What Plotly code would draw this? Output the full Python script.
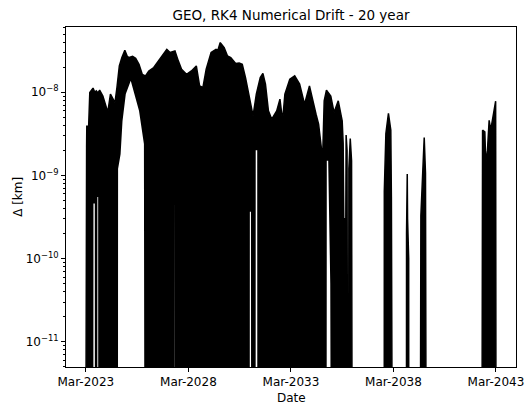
import numpy as np
import pandas as pd
import plotly.graph_objects as go

# Numerical drift of the RK4 propagation of a GEO orbit against the reference
# solution.  The drift oscillates rapidly between its envelope and (numerically)
# zero, so the curve is drawn as the band between an upper and a lower envelope.
FLOOR = 1e-13  # effectively zero drift

# upper envelope: (decimal year, km)
upper_year = [
    2023.158, 2023.164, 2023.200, 2023.210, 2023.300, 2023.356, 2023.514, 2023.600,
    2023.672, 2023.760, 2023.835, 2023.994, 2024.152, 2024.234, 2024.363, 2024.473,
    2024.584, 2024.680, 2024.795, 2024.919, 2025.063, 2025.180, 2025.274, 2025.440,
    2025.591, 2025.754, 2025.912, 2026.070, 2026.233, 2026.473, 2026.713, 2026.953,
    2027.111, 2027.270, 2027.400, 2027.509, 2027.672, 2027.831, 2028.071, 2028.311,
    2028.550, 2028.708, 2028.871, 2029.030, 2029.270, 2029.509, 2029.600, 2029.716,
    2029.907, 2030.070, 2030.229, 2030.468, 2030.640, 2030.790, 2030.948, 2031.106,
    2031.317, 2031.476, 2031.668, 2031.797, 2031.922, 2032.066, 2032.229, 2032.469,
    2032.627, 2032.756, 2032.867, 2033.107, 2033.346, 2033.586, 2033.826, 2034.066,
    2034.224, 2034.387, 2034.512, 2034.627, 2034.660, 2034.665, 2034.713, 2034.720,
    2034.750, 2034.785, 2034.895, 2035.106, 2035.265, 2035.471, 2035.663, 2035.711,
    2035.740, 2035.840, 2035.855, 2035.900, 2035.925, 2035.975, 2035.990, 2036.056,
    2036.120, 2036.152,
    2037.711, 2037.715, 2037.792, 2037.917, 2038.032, 2038.061, 2038.109,
    2038.795, 2038.800, 2038.815, 2038.835, 2038.850, 2038.905, 2038.910,
    2039.471, 2039.500, 2039.596, 2039.663, 2039.725, 2039.759,
    2042.474, 2042.507, 2042.617, 2042.665, 2042.747, 2042.828, 2042.905, 2042.953,
    2043.068, 2043.145, 2043.165,
]
upper_km = [
    FLOOR, 2.2e-9, 2.2e-9, 3.9e-9, 3.9e-9, 9.9e-9, 1.12e-8, 1.0e-8,
    1.04e-8, 9.8e-9, 1.06e-8, 9.0e-9, 6.85e-9, 5.75e-9, 9.46e-9, 8.24e-9,
    7.52e-9, 1.14e-8, 2.07e-8, 2.61e-8, 3.19e-8, 2.7e-8, 2.61e-8, 2.7e-8,
    2.56e-8, 2.17e-8, 1.64e-8, 1.57e-8, 1.8e-8, 1.98e-8, 2.38e-8, 2.86e-8,
    3.28e-8, 3.0e-8, 3.1e-8, 3.13e-8, 2.38e-8, 1.89e-8, 1.64e-8, 1.8e-8,
    2.07e-8, 1.19e-8, 1.14e-8, 1.89e-8, 3.0e-8, 3.28e-8, 3.2e-8, 3.95e-8,
    3.44e-8, 2.73e-8, 2.61e-8, 2.21e-8, 2.25e-8, 2.17e-8, 1.5e-8, 9.46e-9,
    5.19e-9, 9.46e-9, 1.5e-8, 1.68e-8, 1.25e-8, 5.97e-9, 4.74e-9, 5.97e-9,
    8.24e-9, 4.52e-9, 9.46e-9, 1.43e-8, 1.57e-8, 1.25e-8, 7.18e-9, 1.19e-8,
    7.87e-9, 5.44e-9, 4.13e-9, 2.38e-9, 2.0e-9, FLOOR, FLOOR, 2.0e-9,
    4.0e-9, 7.87e-9, 1.06e-8, 9.0e-9, 5.71e-9, 7.87e-9, 4.52e-9, 2.42e-9,
    3.0e-10, 3.0e-10, 3.05e-9, 2.0e-9, FLOOR, FLOOR, 1.2e-9, 2.78e-9,
    1.5e-9, FLOOR,
    FLOOR, 6.4e-10, 3.19e-9, 5.55e-9, 3.5e-9, 5.5e-10, FLOOR,
    FLOOR, 2.0e-10, 1.04e-9, 1.04e-9, 3.0e-10, 1.0e-10, FLOOR,
    FLOOR, 3.3e-10, 1.67e-9, 2.86e-9, 1.06e-9, FLOOR,
    FLOOR, 3.5e-9, 3.33e-9, 1.39e-9, 2.01e-9, 4.6e-9, 3.5e-9, 4.2e-9,
    6.1e-9, 7.8e-9, FLOOR,
]

# lower envelope: (decimal year, km)
lower_year = [
    2023.000,
    2023.529, 2023.535, 2023.600, 2023.606,
    2023.722, 2023.726, 2023.764, 2023.768,
    2024.728, 2024.735, 2024.800, 2024.857, 2024.950, 2025.030, 2025.111, 2025.351,
    2025.514, 2025.754, 2025.994, 2026.018,
    2027.475, 2027.478, 2027.488, 2027.491,
    2031.155, 2031.160, 2031.215, 2031.222,
    2031.442, 2031.446, 2031.520, 2031.524,
    2034.905, 2034.912, 2034.980, 2035.030, 2035.080, 2035.110,
    2044.000,
]
lower_km = [
    FLOOR,
    FLOOR, 4.6e-10, 4.6e-10, FLOOR,
    FLOOR, 5.5e-10, 5.5e-10, FLOOR,
    FLOOR, 1.2e-9, 1.5e-9, 1.8e-9, 4.5e-9, 6.5e-9, 9.5e-9, 1.37e-8,
    9.9e-9, 6.0e-9, 2.38e-9, FLOOR,
    FLOOR, 7.0e-10, 7.0e-10, FLOOR,
    FLOOR, 3.65e-10, 3.65e-10, FLOOR,
    FLOOR, 2.0e-9, 2.0e-9, FLOOR,
    FLOOR, 1.5e-9, 1.5e-9, 4.0e-10, 5.0e-11, FLOOR,
    FLOOR,
]

x_tick_dates = ["2023-03-01", "2028-03-01", "2033-03-01", "2038-03-01", "2043-03-01"]
x_tick_labels = ["Mar-2023", "Mar-2028", "Mar-2033", "Mar-2038", "Mar-2043"]
y_tick_values = [1e-11, 1e-10, 1e-9, 1e-8]
y_tick_labels = ["10<sup>−11</sup>", "10<sup>−10</sup>", "10<sup>−9</sup>", "10<sup>−8</sup>"]


def to_datetime(years):
    out = []
    for y in years:
        yr = int(np.floor(y))
        start = pd.Timestamp(year=yr, month=1, day=1)
        end = pd.Timestamp(year=yr + 1, month=1, day=1)
        out.append(start + (end - start) * (y - yr))
    return out


FONT = "DejaVu Sans"
W, H = 531, 408
L, R, T, B = 66, 7, 27, 41
PW, PH = W - L - R, H - T - B

fig = go.Figure()
fig.add_trace(go.Scatter(
    x=to_datetime(lower_year), y=lower_km, mode="lines",
    line=dict(color="black", width=0), hoverinfo="skip", showlegend=False,
))
fig.add_trace(go.Scatter(
    x=to_datetime(upper_year), y=upper_km, mode="lines",
    line=dict(color="black", width=1.5), fill="tonexty", fillcolor="black",
    showlegend=False,
))

minor_vals = [m * 10.0 ** e for e in range(-12, -7) for m in range(2, 10)]

fig.update_layout(
    width=W, height=H,
    margin=dict(l=L, r=R, t=T, b=B),
    paper_bgcolor="white", plot_bgcolor="white",
    font=dict(family=FONT, size=12, color="black"),
    title=dict(
        text="GEO, RK4 Numerical Drift - 20 year",
        x=0.5, xref="paper", xanchor="center",
        y=1 - 15 / H, yref="container", yanchor="middle",
        font=dict(family=FONT, size=13.5, color="black"),
    ),
    xaxis=dict(
        type="date",
        range=to_datetime([2022.195, 2044.138]),
        tickmode="array", tickvals=x_tick_dates, ticktext=x_tick_labels,
        ticks="outside", ticklen=4, tickwidth=1, tickcolor="black",
        ticklabeloverflow="allow",
        showline=True, linecolor="black", linewidth=1, mirror=True,
        showgrid=False, zeroline=False,
        tickfont=dict(family=FONT, size=12, color="black"),
    ),
    yaxis=dict(
        type="log",
        range=[-11.304, -7.216],
        tickmode="array", tickvals=y_tick_values, ticktext=y_tick_labels,
        ticks="outside", ticklen=4, tickwidth=1, tickcolor="black",
        ticklabeloverflow="allow",
        minor=dict(tickmode="array", tickvals=minor_vals, ticks="outside",
                   ticklen=2.3, tickwidth=0.8, tickcolor="black", showgrid=False),
        showline=True, linecolor="black", linewidth=1, mirror=True,
        showgrid=False, zeroline=False,
        tickfont=dict(family=FONT, size=12, color="black"),
    ),
    annotations=[
        dict(text="Date", x=0.5, xref="paper", y=(H - B - 398) / PH, yref="paper",
             xanchor="center", yanchor="middle", showarrow=False,
             font=dict(family=FONT, size=12, color="black")),
        dict(text="Δ [km]", x=(17 - L) / PW, xref="paper", y=0.5, yref="paper",
             xanchor="center", yanchor="middle", textangle=-90, showarrow=False,
             font=dict(family=FONT, size=12, color="black")),
    ],
)

fig.write_html("out.html")
